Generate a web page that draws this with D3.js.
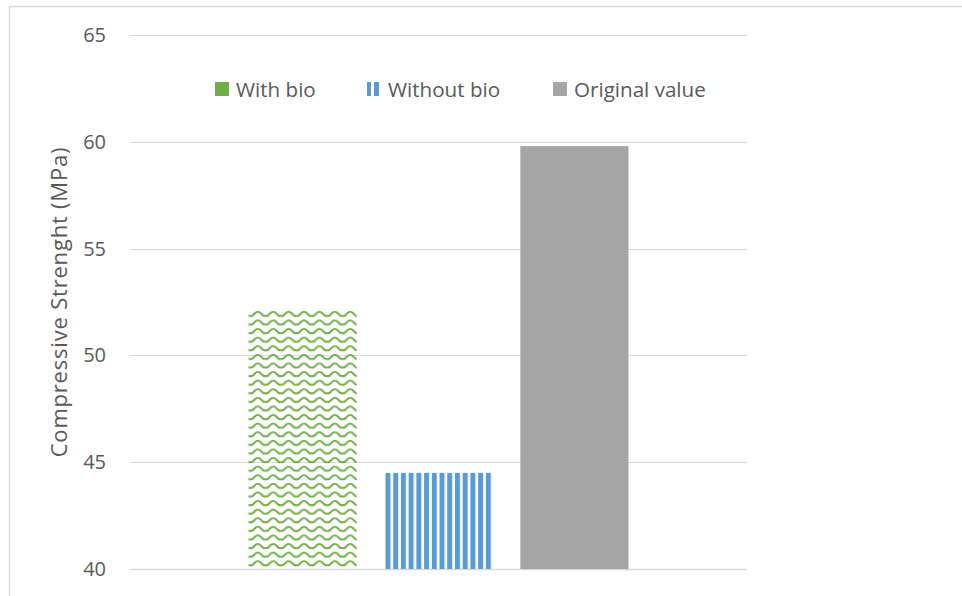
<!DOCTYPE html>
<html>
<head>
<meta charset="utf-8">
<script src="https://d3js.org/d3.v7.min.js"></script>
<style>
  body { margin: 0; background: #fff; }
  text { font-family: "Open Sans", Calibri, sans-serif; fill: #595959; }
</style>
</head>
<body>
<div id="my_dataviz"></div>
<script>

// data
var categories = [""]
var series = ["With bio", "Without bio", "Original value"]
var values = [52.15, 44.5, 59.8]
var yTicks = [40, 45, 50, 55, 60, 65]

var width = 962, height = 596
var plotLeft = 130, plotRight = 747, plotTop = 35, plotBottom = 569

var svg = d3.select("#my_dataviz")
  .append("svg")
    .attr("width", width)
    .attr("height", height)

// chart border
svg.append("rect")
  .attr("x", 9.5).attr("y", 6.5)
  .attr("width", 1000).attr("height", 700)
  .attr("fill", "none")
  .attr("stroke", "#d9d9d9")
  .attr("stroke-width", 1.5)

var defs = svg.append("defs")

// wave pattern for "With bio"
var wave = defs.append("pattern")
  .attr("id", "wave")
  .attr("patternUnits", "userSpaceOnUse")
  .attr("width", 15.4).attr("height", 8.6)
  .attr("x", 248).attr("y", 310)
wave.append("path")
  .attr("d", "M-2,5.5 C0,6.3 1,6.3 2.5,5.5 L5.2,2.8 C6.5,1.6 8.9,1.6 10.2,2.8 L12.9,5.5 C14.4,6.3 15.4,6.3 17.4,5.5")
  .attr("fill", "none")
  .attr("stroke", "#70ad47")
  .attr("stroke-width", 2)

// vertical stripes for "Without bio"
var stripes = defs.append("pattern")
  .attr("id", "stripes")
  .attr("patternUnits", "userSpaceOnUse")
  .attr("width", 7.72).attr("height", 10)
  .attr("x", 384).attr("y", 0)
stripes.append("rect")
  .attr("x", 0).attr("y", 0)
  .attr("width", 5).attr("height", 10)
  .attr("fill", "#5b9bd5")

var legStripes = defs.append("pattern")
  .attr("id", "legStripes")
  .attr("patternUnits", "userSpaceOnUse")
  .attr("width", 8).attr("height", 10)
  .attr("x", 367).attr("y", 0)
legStripes.append("rect")
  .attr("width", 5).attr("height", 10)
  .attr("fill", "#5b9bd5")

var fills = ["url(#wave)", "url(#stripes)", "#a5a5a5"]
var legendFills = ["#70ad47", "url(#legStripes)", "#a5a5a5"]

// scales
var y = d3.scaleLinear().domain([40, 65]).range([plotBottom, plotTop])

var x0 = d3.scaleBand()
  .domain(categories)
  .range([plotLeft, plotRight])
  .paddingInner(0)
  .paddingOuter(0.312)

var x1 = d3.scaleBand()
  .domain(series)
  .range([0, x0.bandwidth()])
  .paddingInner(0.2044)
  .paddingOuter(0)

// gridlines
svg.selectAll(".grid")
  .data(yTicks)
  .enter()
  .append("line")
    .attr("x1", plotLeft).attr("x2", plotRight)
    .attr("y1", function(d){ return Math.round(y(d)) + 0.5 })
    .attr("y2", function(d){ return Math.round(y(d)) + 0.5 })
    .attr("stroke", "#d9d9d9")
    .attr("stroke-width", function(d){ return d == 40 ? 1.5 : 1 })

// y tick labels
svg.selectAll(".ytick")
  .data(yTicks)
  .enter()
  .append("text")
    .attr("x", 106)
    .attr("y", function(d){ return y(d) + 7 })
    .attr("text-anchor", "end")
    .style("font-size", "20px")
    .text(function(d){ return d })

// axis title
svg.append("text")
  .attr("transform", "translate(67," + ((plotTop + plotBottom) / 2) + ") rotate(-90)")
  .attr("text-anchor", "middle")
  .style("font-size", "22px")
  .style("letter-spacing", "0.8px")
  .text("Compressive Strenght (MPa)")

// bars
var g = svg.append("g")
  .attr("transform", "translate(" + x0(categories[0]) + ",0)")

g.selectAll("rect")
  .data(values)
  .enter()
  .append("rect")
    .attr("x", function(d, i){ return x1(series[i]) })
    .attr("y", function(d){ return y(d) })
    .attr("width", x1.bandwidth())
    .attr("height", function(d){ return y(40) - y(d) })
    .attr("fill", function(d, i){ return fills[i] })

// legend
var legX = [215, 367, 553]
var leg = svg.selectAll(".legend")
  .data(series)
  .enter()
  .append("g")
    .attr("transform", function(d, i){ return "translate(" + legX[i] + ",82)" })

leg.append("rect")
  .attr("x", 0).attr("y", 0)
  .attr("width", function(d, i){ return i == 1 ? 13 : 14 })
  .attr("height", 14)
  .attr("fill", function(d, i){ return legendFills[i] })

leg.append("text")
  .attr("x", 21)
  .attr("y", 14.5)
  .style("font-size", "20.6px")
  .text(function(d){ return d })

</script>
</body>
</html>
